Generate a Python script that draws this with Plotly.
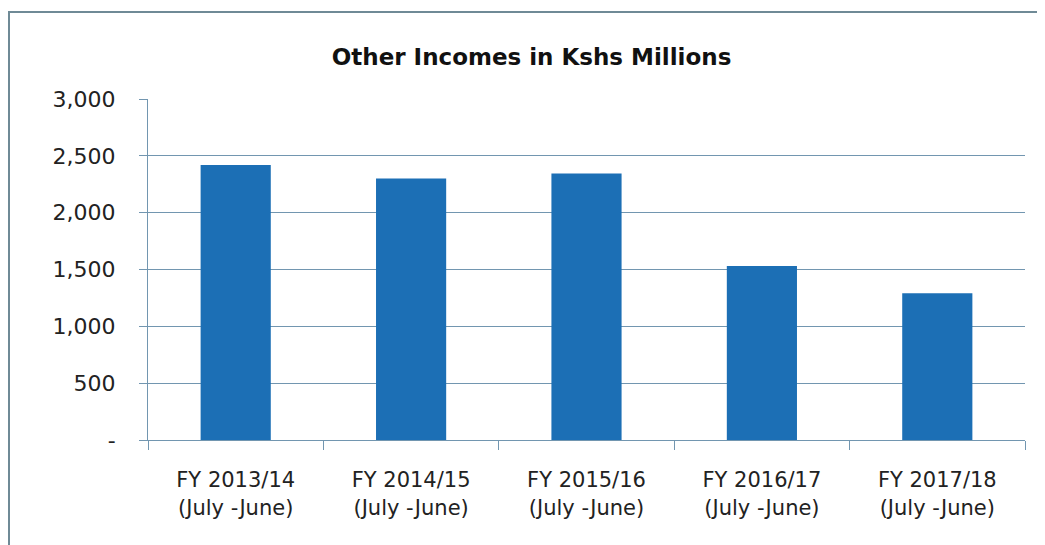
import plotly.graph_objects as go

# data
years = ["FY 2013/14", "FY 2014/15", "FY 2015/16", "FY 2016/17", "FY 2017/18"]
period = "(July -June)"
incomes = [2420, 2300, 2345, 1530, 1290]
y_ticks = [0, 500, 1000, 1500, 2000, 2500, 3000]
y_labels = ["-", "500", "1,000", "1,500", "2,000", "2,500", "3,000"]

categories = [f"{y}<br>{period}" for y in years]

fig = go.Figure()
fig.add_trace(go.Bar(
    x=categories,
    y=incomes,
    marker=dict(color="#1c6fb5", line=dict(width=0)),
    width=0.4,
))

grid_col = "#7296b0"
fig.update_layout(
    width=1045, height=545,
    margin=dict(l=140, r=28, t=91, b=113),
    paper_bgcolor="white", plot_bgcolor="white",
    font=dict(family="DejaVu Sans, sans-serif", color="#222"),
    title=dict(text="<b>Other Incomes in Kshs Millions</b>",
               x=0.501, xanchor="center", y=0.91, yanchor="middle",
               font=dict(size=23, color="#111")),
    showlegend=False,
    bargap=0.6,
)

fig.update_xaxes(
    showline=True, linecolor=grid_col, linewidth=1,
    ticks="outside", tickson="boundaries", ticklen=9, tickcolor=grid_col,
    tickfont=dict(size=21, color="#222"),
    ticklabelstandoff=21,
    showgrid=False,
)
fig.update_yaxes(
    range=[0, 3000],
    tickvals=y_ticks, ticktext=y_labels,
    showline=True, linecolor=grid_col, linewidth=1,
    ticks="outside", ticklen=8, tickcolor=grid_col,
    tickfont=dict(size=22, color="#222"),
    ticklabelstandoff=19,
    showgrid=True, gridcolor=grid_col, gridwidth=1,
    zeroline=False,
)

# outer chart frame (left and top edges visible)
fig.add_shape(type="rect", xref="paper", yref="paper",
              x0=-0.1585, x1=1.05, y0=-0.45, y1=1.255,
              line=dict(color="#6f8a96", width=2), layer="below")

fig.write_html("out.html")
